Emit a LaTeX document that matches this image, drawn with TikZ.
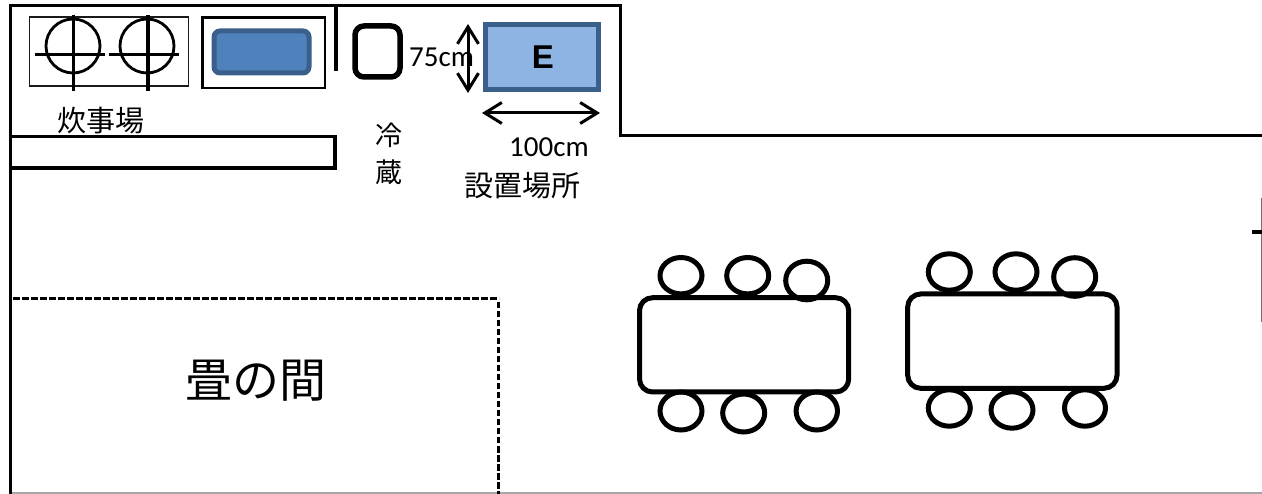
\documentclass[tikz,border=0pt]{standalone}
\usepackage{fontspec}
\setmainfont{Carlito}
\newfontfamily\cjk{Noto Sans CJK JP}
\newfontfamily\arialb{Liberation Sans}
\usetikzlibrary{arrows.meta}
\definecolor{sinkfill}{HTML}{4F81BD}
\definecolor{sinkline}{HTML}{3A5F8B}
\definecolor{efill}{HTML}{8EB4E3}
\tikzset{
  wall/.style={line width=3.5pt,black,line join=miter},
  chair/.style={line width=5pt,black},
  tabletop/.style={line width=5pt,black,rounded corners=13pt},
  burner/.style={line width=2.8pt,black},
  dim/.style={line width=3pt,black,{Straight Barb[length=17pt,width=21pt,line width=3pt]}-{Straight Barb[length=17pt,width=21pt,line width=3pt]}},
  tatami/.style={line width=3.5pt,black,dash pattern=on 6.5pt off 2.5pt},
  jp/.style={inner sep=0pt,font=\cjk\fontsize{#1}{#1}\selectfont},
  lat/.style={inner sep=0pt,font=\fontsize{29}{29}\selectfont},
}
\begin{document}
\begin{tikzpicture}[x=1pt,y=-1pt]
\useasboundingbox (0,0) rectangle (1262,494);
\fill[white] (0,0) rectangle (1262,494);
% bottom edge and right edge
\draw[line width=1.2pt,gray!70] (11,493) -- (1262,493);
\draw[line width=1.5pt,gray!90!black] (1261.3,198) -- (1261.3,322);
\draw[line width=3.5pt] (1252,232) -- (1262,232);
% walls
\draw[wall] (10.5,494) -- (10.5,5.5) -- (620.5,5.5) -- (620.5,135.5) -- (1262,135.5);
\draw[wall] (336,5.5) -- (336,71);
\draw[wall] (10.5,136.5) -- (335,136.5) -- (335,168) -- (10.5,168);
% stove
\draw[line width=1.2pt,black!90] (29.5,17) rectangle (188.5,86);
\draw[burner] (73,46) circle (27);
\draw[burner] (35,54.5) -- (105,54.5);
\draw[burner,line width=3.4pt] (73.5,15) -- (73.5,91);
\draw[burner] (147,46) circle (27);
\draw[burner] (109,54.5) -- (179,54.5);
\draw[burner,line width=3.4pt] (148,15) -- (148,91);
% sink
\draw[line width=2.8pt,black] (202.5,17.5) rectangle (325,88);
\draw[line width=5pt,sinkline,fill=sinkfill,rounded corners=6pt] (214,31) rectangle (309,73);
% fridge
\draw[line width=5.5pt,black,rounded corners=9pt] (355,26) rectangle (400,77);
% E box
\draw[line width=5pt,sinkline,fill=efill] (485.5,24.5) rectangle (598.5,89.5);
\node[inner sep=0pt,font=\arialb\bfseries\fontsize{33}{33}\selectfont] (e) at (543,57) {E};
% labels
\node[lat,anchor=base west] (l75) at (409,67) {75cm};
\node[lat,anchor=base west] (l100) at (509,157) {100cm};
\node[jp=29] (cook) at (101,121) {炊事場};
\node[jp=27] (rei) at (389,135) {冷};
\node[jp=27] (zo) at (389,172) {蔵};
\node[jp=29] (place) at (522.5,186) {設置場所};
\node[jp=47] (tatamilabel) at (256,381) {畳の間};
% dimension arrows
\coordinate (vt) at (468,24);
\coordinate (vb) at (468,93);
\coordinate (hl) at (482,113);
\coordinate (hr) at (600,113);
\draw[dim] (vt) -- (vb);
\draw[dim] (hl) -- (hr);
% tatami
\draw[tatami] (13,298.5) -- (499,298.5);
\draw[tatami] (498.5,302) -- (498.5,494);
% table 1
\draw[tabletop] (639.5,297.7) rectangle (848.7,392);
\foreach \x/\y/\rx/\ry in {681/275.7/21/18.2, 747.7/275.7/21/18.2, 806.7/280.5/21/19.3, 681/411/21/19, 743.7/413/21/19, 816.8/411/20.7/19}
  \draw[chair] (\x,\y) ellipse [x radius=\rx, y radius=\ry];
% table 2
\draw[tabletop] (907.7,294) rectangle (1117,388.3);
\foreach \x/\y/\rx/\ry in {949.3/272/21/18.2, 1016/272/21/18.2, 1074.7/277/21/19.3, 949.3/408/21/18.2, 1012/410/21/18.2, 1085/408/20.5/18.2}
  \draw[chair] (\x,\y) ellipse [x radius=\rx, y radius=\ry];
\end{tikzpicture}
\end{document}
